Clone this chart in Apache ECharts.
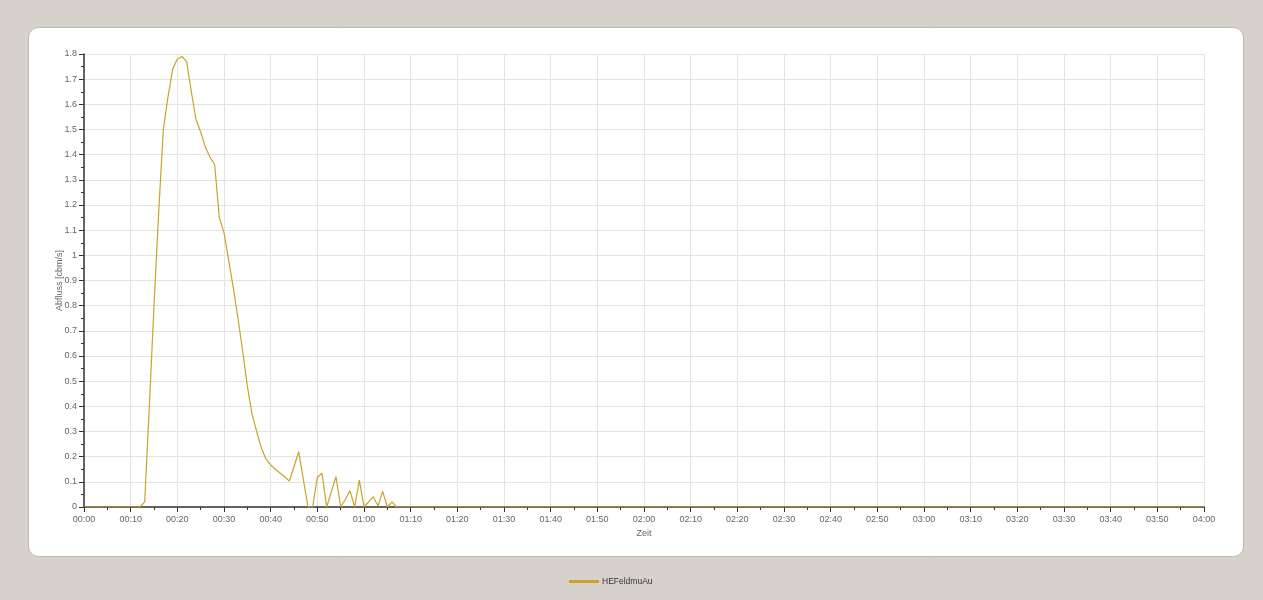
<!DOCTYPE html>
<html>
<head>
<meta charset="utf-8">
<title>Abfluss</title>
<script src="https://cdn.jsdelivr.net/npm/echarts@6/dist/echarts.min.js"></script>
<style>
html,body{margin:0;padding:0;background:#d6d2cb;}
#main{width:1263px;height:600px;}
</style>
</head>
<body>
<div id="main"></div>
<script type="text/javascript">
// Zeit in Minuten ab 00:00
var minutes = [0, 12, 13, 14, 15, 16, 17, 18, 19, 20, 21, 22, 23, 24, 25, 26, 27, 28, 29, 30,
    31, 32, 33, 34, 35, 36, 37, 38, 39, 40, 41, 42, 43, 44, 45, 46, 47, 48, 49, 50,
    51, 52, 53, 54, 55, 56, 57, 58, 59, 60, 61, 62, 63, 64, 65, 66, 67, 240];
// Abfluss [cbm/s]
var flow = [0, 0, 0.02, 0.4, 0.8, 1.17, 1.5, 1.63, 1.74, 1.78, 1.79, 1.77, 1.65, 1.54, 1.49, 1.43, 1.39, 1.36, 1.15, 1.09,
    0.98, 0.87, 0.75, 0.62, 0.48, 0.37, 0.3, 0.235, 0.19, 0.167, 0.15, 0.135, 0.12, 0.103, 0.16, 0.22, 0.11, 0, 0, 0.118,
    0.134, 0, 0.06, 0.12, 0, 0.03, 0.065, 0, 0.107, 0, 0.02, 0.041, 0.004, 0.062, 0, 0.02, 0, 0];
var seriesName = 'HEFeldmuAu';
var lineColor = '#c9a32c';

var points = [];
for (var i = 0; i < minutes.length; i++) {
    points.push([minutes[i], flow[i]]);
}

function fmtTime(v) {
    var h = Math.floor(v / 60), m = v % 60;
    return (h < 10 ? '0' : '') + h + ':' + (m < 10 ? '0' : '') + m;
}

var myChart = echarts.init(document.getElementById('main'));
var labelFont = { fontFamily: 'Liberation Sans', fontSize: 9, color: '#666666' };

var option = {
    backgroundColor: '#d6d2cb',
    animation: false,
    graphic: [{
        type: 'rect',
        z: -10,
        shape: { x: 28.5, y: 27.5, width: 1215, height: 529, r: 10 },
        style: { fill: '#ffffff', stroke: '#bdb9b2', lineWidth: 1 }
    }],
    grid: { left: 84, right: 59, top: 54, bottom: 93 },
    legend: {
        bottom: 9,
        left: 564,
        itemWidth: 30,
        itemHeight: 3,
        itemGap: 4,
        icon: 'rect',
        textStyle: { fontFamily: 'Liberation Sans', fontSize: 8.5, color: '#333', padding: [0, 0, 0, -2] },
        data: [seriesName]
    },
    xAxis: {
        type: 'value',
        min: 0,
        max: 240,
        interval: 10,
        name: 'Zeit',
        nameLocation: 'middle',
        nameGap: 18,
        nameTextStyle: labelFont,
        axisLine: { lineStyle: { color: '#333', width: 1.5 } },
        axisTick: { length: 5, lineStyle: { color: '#333' } },
        minorTick: { show: true, splitNumber: 2, length: 3, lineStyle: { color: '#333' } },
        axisLabel: Object.assign({ formatter: fmtTime, margin: 8 }, labelFont),
        splitLine: { lineStyle: { color: '#e4e4e4' } }
    },
    yAxis: {
        type: 'value',
        min: 0,
        max: 1.8,
        interval: 0.1,
        name: 'Abfluss [cbm/s]',
        nameLocation: 'middle',
        nameGap: 20,
        nameMoveOverlap: false,
        nameTextStyle: labelFont,
        axisLine: { show: true, lineStyle: { color: '#333', width: 1.5 } },
        axisTick: { show: true, length: 5, lineStyle: { color: '#333' } },
        minorTick: { show: true, splitNumber: 2, length: 3, lineStyle: { color: '#333' } },
        axisLabel: Object.assign({
            margin: 7,
            formatter: function (v) { return String(Math.round(v * 10) / 10); }
        }, labelFont),
        splitLine: { lineStyle: { color: '#e4e4e4' } }
    },
    series: [{
        name: seriesName,
        type: 'line',
        data: points,
        showSymbol: false,
        color: lineColor,
        lineStyle: { width: 1.2, color: lineColor }
    }]
};

myChart.setOption(option);
</script>
</body>
</html>
